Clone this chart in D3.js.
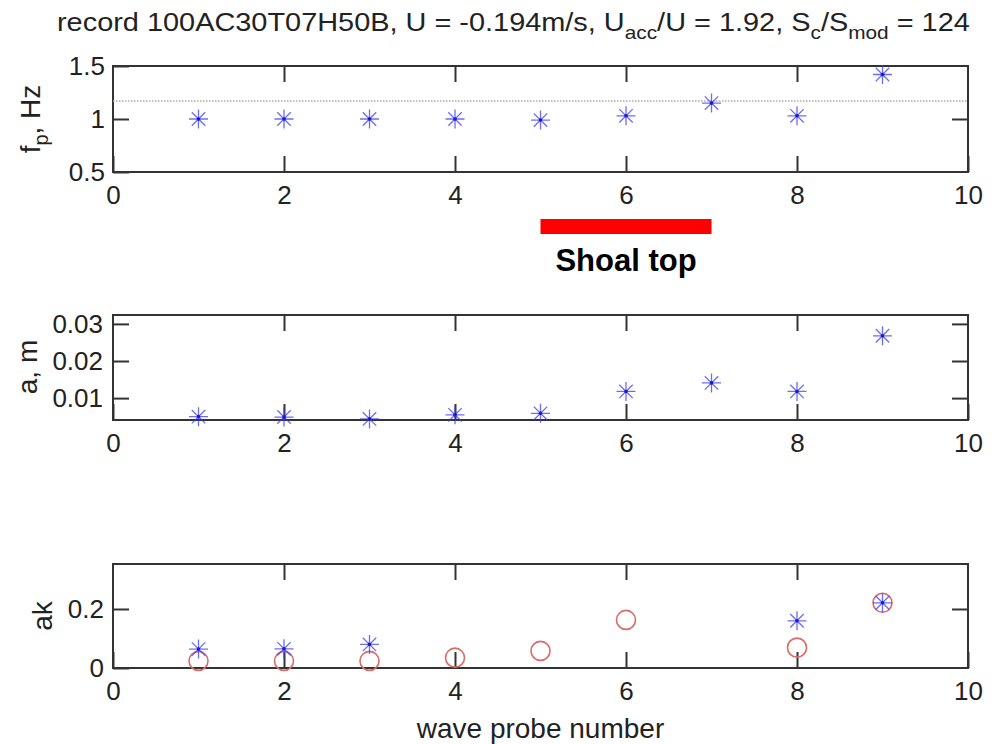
<!DOCTYPE html>
<html>
<head>
<meta charset="utf-8">
<script src="https://cdn.jsdelivr.net/npm/d3@7"></script>
<style>
  body { margin: 0; background: #fff; }
  svg { display: block; font-family: "Liberation Sans", Arial, sans-serif; }
</style>
</head>
<body>
<div id="chart"></div>
<script>
// data
var probes = [1, 2, 3, 4, 5, 6, 7, 8, 9];
var fpValues = [1.0, 1.0, 1.0, 1.0, 0.99, 1.03, 1.15, 1.03, 1.42];
var fpRef = 1.17;
var ampValues = [0.0050, 0.0049, 0.0044, 0.0055, 0.0059, 0.0118, 0.0141, 0.0118, 0.0268];
var akStarProbes = [1, 2, 3, 8, 9];
var akStarValues = [0.064, 0.065, 0.080, 0.160, 0.221];
var akCircleProbes = [1, 2, 3, 4, 5, 6, 8, 9];
var akCircleValues = [0.024, 0.024, 0.024, 0.035, 0.058, 0.163, 0.069, 0.221];
var shoalRange = [5, 7];
var xTicks = [0, 2, 4, 6, 8, 10];
var xInnerTicks = [2, 4, 6, 8];

var width = 1000,
	height = 744;

var svg = d3.select('#chart').append('svg')
	.attr('width', width)
	.attr('height', height);

var x = d3.scaleLinear().domain([0, 10]).range([113, 968]);

var panels = [
	{top: 66, bottom: 172, domain: [0.5, 1.5], ticks: [0.5, 1, 1.5], inner: [1], pad: 8},
	{top: 315, bottom: 420, domain: [0.0041, 0.0324], ticks: [0.01, 0.02, 0.03], inner: [0.01, 0.02, 0.03], pad: 10},
	{top: 564, bottom: 668, domain: [0, 0.3525], ticks: [0, 0.2], inner: [0.2], pad: 9}
];

var axisColor = '#333';
var starColor = '#3b3bf0';
var circleColor = '#d86a6a';

function starPath(r) {
	var a = r * 0.7071;
	return 'M' + (-r) + ',0L' + r + ',0M0,' + (-r) + 'L0,' + r +
		'M' + (-a) + ',' + (-a) + 'L' + a + ',' + a +
		'M' + (-a) + ',' + a + 'L' + a + ',' + (-a);
}

function styleAxis(g) {
	g.select('.domain').remove();
	g.selectAll('.tick line').attr('stroke', axisColor).attr('stroke-width', 2);
	g.selectAll('.tick text').attr('fill', '#222').style('font-size', '26px')
		.style('font-family', '"Liberation Sans", Arial, sans-serif');
}

panels.forEach(function(p) {
	p.y = d3.scaleLinear().domain(p.domain).range([p.bottom, p.top]);
	var g = svg.append('g');

	// x tick labels + inner ticks
	g.append('g').attr('transform', 'translate(0,' + p.bottom + ')')
		.call(d3.axisBottom(x).tickValues(xTicks).tickSize(-16).tickSizeOuter(0).tickPadding(14)
			.tickFormat(function(d) { return d; }))
		.call(styleAxis);
	g.append('g').attr('transform', 'translate(0,' + p.top + ')')
		.call(d3.axisTop(x).tickValues(xInnerTicks).tickSize(-16).tickSizeOuter(0).tickFormat(''))
		.call(styleAxis);

	// y axis
	g.append('g').attr('transform', 'translate(' + x(0) + ',0)')
		.call(d3.axisLeft(p.y).tickValues(p.ticks).tickSize(-16).tickSizeOuter(0).tickPadding(p.pad)
			.tickFormat(function(d) { return d; }))
		.call(styleAxis);
	g.append('g').attr('transform', 'translate(' + x(10) + ',0)')
		.call(d3.axisRight(p.y).tickValues(p.inner).tickSize(-16).tickSizeOuter(0).tickFormat(''))
		.call(styleAxis);

	// frame
	g.append('rect')
		.attr('x', x(0)).attr('y', p.top)
		.attr('width', x(10) - x(0)).attr('height', p.bottom - p.top)
		.attr('fill', 'none').attr('stroke', axisColor).attr('stroke-width', 2);
	p.g = g;
});

function drawStars(g, xs, ys, yScale) {
	var pts = xs.map(function(d, i) { return [d, ys[i]]; });
	var s = g.selectAll(null).data(pts).enter().append('g')
		.attr('transform', function(d) { return 'translate(' + x(d[0]) + ',' + yScale(d[1]) + ')'; });
	s.append('path').attr('d', starPath(9.5))
		.attr('stroke', starColor).attr('stroke-width', 1.3).attr('stroke-opacity', 0.75).attr('fill', 'none');
	s.append('circle').attr('r', 1.8).attr('fill', '#1a1ad0');
}

// top panel: peak frequency
var p0 = panels[0];
p0.g.append('line')
	.attr('x1', x(0)).attr('x2', x(10))
	.attr('y1', p0.y(fpRef)).attr('y2', p0.y(fpRef))
	.attr('stroke', '#aaa').attr('stroke-width', 1.5).attr('stroke-dasharray', '1.5,1.5');
drawStars(p0.g, probes, fpValues, p0.y);

// middle panel: amplitude
var p1 = panels[1];
drawStars(p1.g, probes, ampValues, p1.y);

// bottom panel: steepness
var p2 = panels[2];
p2.g.selectAll(null).data(akCircleProbes).enter().append('circle')
	.attr('cx', function(d) { return x(d); })
	.attr('cy', function(d, i) { return p2.y(akCircleValues[i]); })
	.attr('r', 9.5)
	.attr('fill', 'none').attr('stroke', circleColor).attr('stroke-width', 1.6);
drawStars(p2.g, akStarProbes, akStarValues, p2.y);

// shoal marker
svg.append('rect')
	.attr('x', x(shoalRange[0])).attr('y', 219)
	.attr('width', x(shoalRange[1]) - x(shoalRange[0])).attr('height', 15)
	.attr('fill', '#ff0000');
svg.append('text')
	.attr('x', (x(shoalRange[0]) + x(shoalRange[1])) / 2).attr('y', 271)
	.attr('text-anchor', 'middle')
	.style('font-size', '31px').style('font-weight', 'bold')
	.attr('fill', '#000')
	.text('Shoal top');

// y labels
function yLabel(cx, cy, parts) {
	var t = svg.append('text')
		.attr('transform', 'translate(' + cx + ',' + cy + ') rotate(-90)')
		.attr('text-anchor', 'middle')
		.style('font-size', '28px').attr('fill', '#222');
	parts.forEach(function(pt) {
		var ts = t.append('tspan').text(pt.t);
		if (pt.sub) ts.attr('dy', 8).style('font-size', '20px');
		if (pt.back) ts.attr('dy', -8);
	});
}
yLabel(40, 119, [{t: 'f'}, {t: 'p', sub: true}, {t: ', Hz', back: true}]);
yLabel(37, 367, [{t: 'a, m'}]);
yLabel(52, 616, [{t: 'ak'}]);

// x label
svg.append('text')
	.attr('x', (x(0) + x(10)) / 2).attr('y', 738)
	.attr('text-anchor', 'middle')
	.style('font-size', '28px').attr('fill', '#222')
	.text('wave probe number');

// title (condensed to fit)
var title = svg.append('text')
	.attr('y', 31)
	.style('font-size', '25px').attr('fill', '#222');
var titleParts = [
	{t: 'record 100AC30T07H50B, U = -0.194m/s, U'},
	{t: 'acc', sub: true},
	{t: '/U = 1.92, S', back: true},
	{t: 'c', sub: true},
	{t: '/S', back: true},
	{t: 'mod', sub: true},
	{t: ' = 124', back: true}
];
titleParts.forEach(function(pt) {
	var ts = title.append('tspan').text(pt.t);
	if (pt.sub) ts.attr('dy', 8).style('font-size', '18px');
	if (pt.back) ts.attr('dy', -8);
});
var tw = title.node().getComputedTextLength();
var tx0 = 57, tx1 = 970;
title.attr('transform', 'translate(' + tx0 + ',0) scale(' + ((tx1 - tx0) / tw) + ',1)');
</script>
</body>
</html>
